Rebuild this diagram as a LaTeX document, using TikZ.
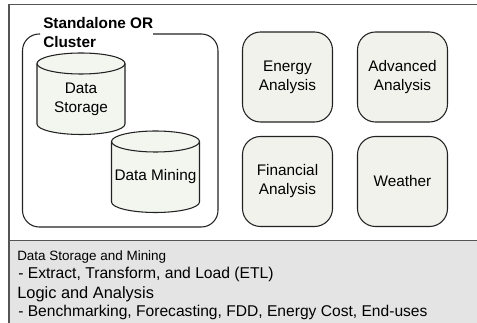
\documentclass[tikz,border=0pt]{standalone}
\usepackage{fontspec}
\setmainfont{Liberation Sans}
\definecolor{boxfill}{HTML}{F2F2EC}
\definecolor{cylfill}{HTML}{F3F5EF}
\definecolor{panel}{HTML}{E4E4E4}
\definecolor{edge}{HTML}{222222}
\definecolor{frameline}{HTML}{555555}
\tikzset{
  x=0.75pt,y=-0.75pt,
  panelbox/.style={draw=edge,line width=0.8pt,fill=boxfill,rounded corners=13.5pt,minimum width=67.5pt,minimum height=67.5pt,inner sep=0pt,align=center,font=\fontsize{11.5}{14.2}\selectfont,text=black},
  cyl/.style={draw=edge,line width=0.8pt,fill=cylfill},
  cyltext/.style={inner sep=0pt,align=center,font=\fontsize{11.5}{14.2}\selectfont,text=black},
  note/.style={anchor=base west,inner sep=0pt,text=black},
  heading/.style={anchor=base west,inner sep=0pt,font=\fontsize{11.5}{14}\bfseries\selectfont},
}
\begin{document}
\begin{tikzpicture}
\useasboundingbox (0,0) rectangle (477,323);
% outer frame and panel
\fill[panel] (9,240) rectangle (477,323);
\draw[frameline,line width=0.9pt] (477,4.5) -- (9,4.5) -- (9,323);
\draw[frameline,line width=0.9pt] (9,240.5) -- (477,240.5);
% cluster box
\draw[edge,line width=0.8pt,rounded corners=12.5pt] (40,34) -- (22.5,34) -- (22.5,227) -- (218,227) -- (218,34) -- (153,34);
\node[heading] (t1) at (43,29) {Standalone OR};
\node[heading] (t2) at (43,47.5) {Cluster};
% cylinders
\draw[cyl] (37,63.5) -- (37,124) arc[start angle=180,end angle=0,x radius=44,y radius=10.5] -- (125,63.5) arc[start angle=0,end angle=-180,x radius=44,y radius=10.5] -- cycle;
\draw[cyl,fill=none] (37,63.5) arc[start angle=180,end angle=0,x radius=44,y radius=10.5];
\draw[cyl] (111.5,141.5) -- (111.5,202) arc[start angle=180,end angle=0,x radius=44,y radius=10.5] -- (199.5,141.5) arc[start angle=0,end angle=-180,x radius=44,y radius=10.5] -- cycle;
\draw[cyl,fill=none] (111.5,141.5) arc[start angle=180,end angle=0,x radius=44,y radius=10.5];
\node[cyltext] (ds) at (81,99) {Data\\Storage};
\node[cyltext] (dm) at (155.5,177) {Data Mining};
% boxes
\node[panelbox] (ea) at (287.5,77) {Energy\\Analysis};
\node[panelbox] (aa) at (402.5,77) {Advanced\\Analysis};
\node[panelbox] (fa) at (287.5,181.5) {Financial\\Analysis};
\node[panelbox] (we) at (402.5,181.5) {Weather};
% notes
\node[note,font=\fontsize{10.1}{12}\selectfont] (n1) at (17,261) {Data Storage and Mining};
\node[note,font=\fontsize{11.75}{12}\selectfont] (n2) at (18,279) {- Extract, Transform, and Load (ETL)};
\node[note,font=\fontsize{12.3}{12}\selectfont] (n3) at (17,298) {Logic and Analysis};
\node[note,font=\fontsize{11.7}{12}\selectfont] (n4) at (18,316.5) {- Benchmarking, Forecasting, FDD, Energy Cost, End-uses};
\end{tikzpicture}
\end{document}
